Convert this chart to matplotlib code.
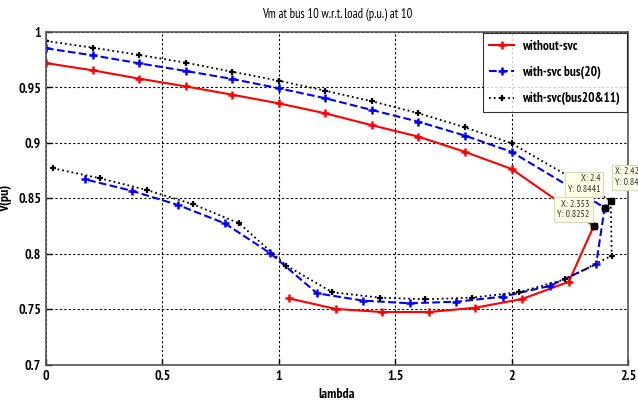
import numpy as np
import matplotlib
matplotlib.use('Agg')
import matplotlib.pyplot as plt
from matplotlib import font_manager

# narrow font, like the Arial Narrow look of the original
names = set(f.name for f in font_manager.fontManager.ttflist)
FONT = 'Liberation Sans'
for cand in ['Liberation Sans Narrow', 'PT Sans Narrow', 'Archivo Narrow']:
    if cand in names:
        FONT = cand
        break
plt.rcParams['font.family'] = [FONT, 'DejaVu Sans']

# without-svc
lam_nosvc = [0.0, 0.2, 0.4, 0.6, 0.8, 1.0, 1.2, 1.4, 1.6, 1.8, 2.0, 2.353,
             2.246, 2.046, 1.844, 1.645, 1.445, 1.245, 1.044]
v_nosvc = [0.972, 0.9655, 0.958, 0.951, 0.9435, 0.9357, 0.9267, 0.916, 0.9057,
           0.892, 0.8766, 0.8252, 0.775, 0.7595, 0.7516, 0.7477, 0.7477, 0.7505, 0.760]

# with-svc bus(20)
lam_svc20 = [0.0, 0.2, 0.4, 0.6, 0.8, 1.0, 1.2, 1.4, 1.6, 1.8, 2.0, 2.4,
             2.363, 2.163, 1.963, 1.763, 1.562, 1.362, 1.164, 0.964, 0.768,
             0.568, 0.368, 0.167]
v_svc20 = [0.9853, 0.979, 0.9718, 0.9649, 0.9577, 0.9493, 0.9403, 0.9297, 0.9192,
           0.9066, 0.892, 0.8417, 0.7907, 0.7712, 0.7616, 0.757, 0.7556, 0.758,
           0.7646, 0.8006, 0.8276, 0.8441, 0.857, 0.8673]

# with-svc (bus20&11)
lam_svc2011 = [0.0, 0.2, 0.4, 0.6, 0.8, 1.0, 1.2, 1.4, 1.6, 1.8, 2.0, 2.426,
               2.43, 2.23, 2.03, 1.83, 1.63, 1.433, 1.23, 1.033, 0.83, 0.632,
               0.432, 0.232, 0.031]
v_svc2011 = [0.9919, 0.9859, 0.9793, 0.9724, 0.9642, 0.9561, 0.9471, 0.9376, 0.9268,
             0.9141, 0.8997, 0.848, 0.7985, 0.7772, 0.7655, 0.7607, 0.7592, 0.7607,
             0.7655, 0.7895, 0.8276, 0.8448, 0.8577, 0.8682, 0.8772]

# data tips: (x, y, text, offset in points)
tips = [
    (2.4, 0.8417, 'X: 2.4\nY: 0.8441', (-3, 10)),
    (2.353, 0.8252, 'X: 2.353\nY: 0.8252', (-3, 5)),
    (2.426, 0.848, 'X: 2.426\nY: 0.848', (3, 10)),
]

fig = plt.figure(figsize=(6.38, 4.03), dpi=100)
ax = fig.add_axes([0.0721, 0.0943, 0.9122, 0.8263])

ax.plot(lam_nosvc, v_nosvc, '-', color='red', lw=1.5, marker='+', ms=6, mew=1.8,
        label='without-svc')
ax.plot(lam_svc20, v_svc20, '--', color='blue', lw=1.5, marker='+', ms=6, mew=1.8,
        label='with-svc bus(20)')
ax.plot(lam_svc2011, v_svc2011, ':', color='black', lw=1.3, marker='+', ms=5, mew=1.6,
        label='with-svc(bus20&11)')

for x, y, txt, off in tips:
    ax.plot(x, y, 's', color='black', ms=5, clip_on=False, zorder=6)
    ax.annotate(txt, xy=(x, y), xytext=off, textcoords='offset points',
                ha='right' if off[0] < 0 else 'left', va='bottom',
                fontsize=7, color='#333333', annotation_clip=False,
                bbox=dict(boxstyle='square,pad=0.3', fc='#ffffe6', ec='#d8d8c0', lw=0.8),
                zorder=7)

ax.set_xlim(0, 2.5)
ax.set_ylim(0.7, 1.0)
ax.set_xticks(np.arange(0, 2.51, 0.5))
ax.set_xticklabels(['0', '0.5', '1', '1.5', '2', '2.5'])
ax.set_yticks(np.arange(0.7, 1.001, 0.05))
ax.set_yticklabels(['0.7', '0.75', '0.8', '0.85', '0.9', '0.95', '1'])
ax.tick_params(labelsize=10, direction='in', length=4, width=1)
for lbl in ax.get_xticklabels() + ax.get_yticklabels():
    lbl.set_fontweight('bold')
ax.grid(True, color='black', linestyle=(0, (2, 2)), lw=0.8)
for sp in ax.spines.values():
    sp.set_color('#555555')
    sp.set_linewidth(1.2)

ax.set_title('Vm at bus 10 w.r.t. load (p.u.) at 10', fontsize=9, pad=10)
ax.set_xlabel('lambda', fontsize=10, fontweight='bold')
ax.xaxis.set_label_coords(0.5, -0.07)
ax.set_ylabel('V(pu)', fontsize=10, fontweight='bold')
ax.yaxis.set_label_coords(-0.058, 0.5)

leg = ax.legend(loc='upper right', frameon=True, fancybox=False,
                borderaxespad=0.1, handlelength=1.9, handletextpad=0.6,
                labelspacing=1.0, borderpad=0.5,
                prop={'weight': 'bold', 'size': 9.5})
leg.get_frame().set_edgecolor('black')
leg.get_frame().set_linewidth(0.8)

fig.savefig('out.png', dpi=100)
